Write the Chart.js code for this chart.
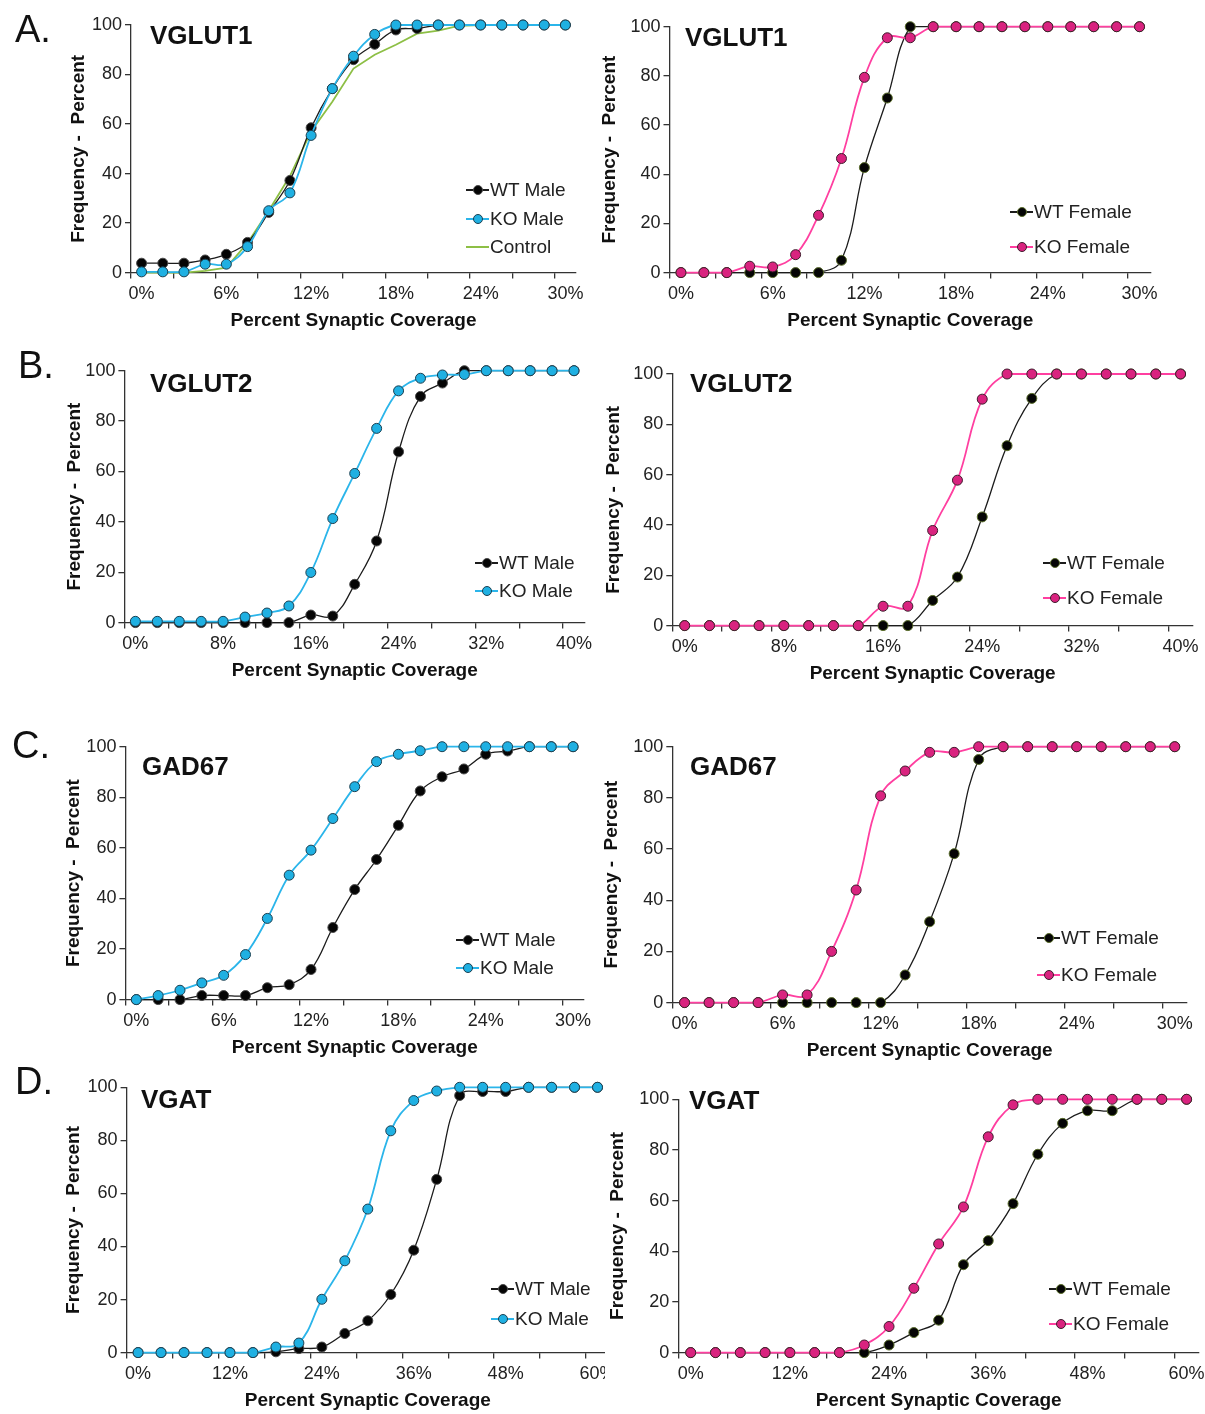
<!DOCTYPE html>
<html>
<head>
<meta charset="utf-8">
<title>Synaptic coverage cumulative frequency</title>
<script src="https://cdn.jsdelivr.net/npm/chart.js@4.4.0/dist/chart.umd.min.js"></script>
<style>
  html, body { margin: 0; background: #fff; }
  body { width: 1205px; height: 1414px; position: relative; overflow: hidden;
         font-family: "Liberation Sans", Arial, sans-serif; color: #111; }
  .wrap { position: absolute; overflow: hidden; }
  .wrap canvas { position: absolute; left: 0; top: 0; }
  .letter { position: absolute; font-size: 38px; line-height: 1; }
  .ptitle { position: absolute; font-size: 26px; font-weight: bold; line-height: 1; white-space: nowrap; }
  .leg { position: absolute; height: 20px; line-height: 20px; font-size: 19px; padding-left: 24px;
         white-space: nowrap; color: #222; }
  .leg .ln { position: absolute; left: 0; top: 9px; width: 23px; height: 1.6px; }
  .leg .dot { position: absolute; left: 7px; top: 5px; width: 10px; height: 10px; border-radius: 50%;
              border: 1px solid; box-sizing: border-box; }
</style>
</head>
<body>
<script>
/* Cumulative frequency of percent synaptic coverage — 8 panels (A–D) */

// ── x categories (bins) ─────────────────────────────────────────────────────
const BINS_30 = ["0%", "1.5%", "3%", "4.5%", "6%", "7.5%", "9%", "10.5%", "12%", "13.5%", "15%",
                 "16.5%", "18%", "19.5%", "21%", "22.5%", "24%", "25.5%", "27%", "28.5%", "30%"];
const BINS_40 = ["0%", "2%", "4%", "6%", "8%", "10%", "12%", "14%", "16%", "18%", "20%",
                 "22%", "24%", "26%", "28%", "30%", "32%", "34%", "36%", "38%", "40%"];
const BINS_60 = ["0%", "3%", "6%", "9%", "12%", "15%", "18%", "21%", "24%", "27%", "30%",
                 "33%", "36%", "39%", "42%", "45%", "48%", "51%", "54%", "57%", "60%"];
const Y_TICKS = [0, 20, 40, 60, 80, 100];

// ── A. VGLUT1 ───────────────────────────────────────────────────────────────
const VGLUT1_WT_MALE   = [3.8, 3.8, 3.8, 5.1, 7.4, 12.2, 24.3, 37.2, 58.5, 74.3, 86, 92.2, 98, 98.6, 100, 100, 100, 100, 100, 100, 100];
const VGLUT1_KO_MALE   = [0.3, 0.3, 0.3, 3.4, 3.4, 10.5, 25, 32.2, 55.4, 74.3, 87.4, 96.2, 100, 100, 100, 100, 100, 100, 100, 100, 100];
const VGLUT1_CONTROL   = [0, 0, 0, 0.7, 2, 12, 25, 39, 57, 69, 82.4, 88, 92, 96.5, 97.7, 99.7, 100, 100, 100, 100, 100];
const VGLUT1_WT_FEMALE = [0, 0, 0, 0, 0, 0, 0, 5, 42.7, 71, 100, 100, 100, 100, 100, 100, 100, 100, 100, 100, 100];
const VGLUT1_KO_FEMALE = [0, 0, 0, 2.6, 2.3, 7.3, 23.3, 46.4, 79.4, 95.5, 95.5, 100, 100, 100, 100, 100, 100, 100, 100, 100, 100];

// ── B. VGLUT2 ───────────────────────────────────────────────────────────────
const VGLUT2_WT_MALE   = [0, 0, 0, 0, 0, 0, 0, 0, 3, 2.6, 15.2, 32.4, 67.8, 89.8, 95.1, 100, 100, 100, 100, 100, 100];
const VGLUT2_KO_MALE   = [0.5, 0.5, 0.5, 0.5, 0.5, 2.2, 3.8, 6.6, 19.9, 41.3, 59.2, 77.1, 92, 97, 98.3, 98.5, 100, 100, 100, 100, 100];
const VGLUT2_WT_FEMALE = [0, 0, 0, 0, 0, 0, 0, 0, 0, 0, 10, 19.3, 43.2, 71.5, 90.3, 100, 100, 100, 100, 100, 100];
const VGLUT2_KO_FEMALE = [0, 0, 0, 0, 0, 0, 0, 0, 7.7, 7.7, 37.8, 57.8, 90, 100, 100, 100, 100, 100, 100, 100, 100];

// ── C. GAD67 ────────────────────────────────────────────────────────────────
const GAD67_WT_MALE    = [0, 0, 0, 1.6, 1.6, 1.6, 4.7, 5.9, 11.9, 28.5, 43.5, 55.4, 68.9, 82.5, 88.1, 91.2, 97, 98.3, 100, 100, 100];
const GAD67_KO_MALE    = [0, 1.6, 3.7, 6.6, 9.6, 17.8, 32.1, 49.2, 59.1, 71.6, 84.2, 94.1, 97, 98.4, 100, 100, 100, 100, 100, 100, 100];
const GAD67_WT_FEMALE  = [0, 0, 0, 0, 0, 0, 0, 0, 0, 10.8, 31.6, 58.2, 95, 100, 100, 100, 100, 100, 100, 100, 100];
const GAD67_KO_FEMALE  = [0, 0, 0, 0, 3, 3, 20, 44, 80.8, 90.5, 97.8, 97.8, 100, 100, 100, 100, 100, 100, 100, 100, 100];

// ── D. VGAT ─────────────────────────────────────────────────────────────────
const VGAT_WT_MALE     = [0, 0, 0, 0, 0, 0, 0.3, 1.5, 2.1, 7.2, 12, 21.9, 38.6, 65.3, 96.9, 98.4, 98.4, 100, 100, 100, 100];
const VGAT_KO_MALE     = [0, 0, 0, 0, 0, 0, 2.1, 3.6, 20.1, 34.6, 54.1, 83.6, 95, 98.6, 100, 100, 100, 100, 100, 100, 100];
const VGAT_WT_FEMALE   = [0, 0, 0, 0, 0, 0, 0, 0, 3, 7.9, 12.8, 34.7, 44.2, 58.8, 78.3, 90.5, 95.5, 95.5, 100, 100, 100];
const VGAT_KO_FEMALE   = [0, 0, 0, 0, 0, 0, 0, 3, 10.3, 25.4, 42.9, 57.5, 85.2, 97.8, 100, 100, 100, 100, 100, 100, 100];

// ── styling ─────────────────────────────────────────────────────────────────
const AXIS = "#333";
const FONT = "'Liberation Sans', Arial, sans-serif";
const STYLE = {
    wtM:  { line: "#1c1c1c", fill: "#050505", edge: "#4a4a4a", width: 1.3, tension: 0.4, order: 1 },
    wtF:  { line: "#1c1c1c", fill: "#050505", edge: "#5b6e2c", width: 1.3, tension: 0.4, order: 1 },
    koM:  { line: "#2bb5ea", fill: "#1fb0e2", edge: "#1b3f50", width: 1.8, tension: 0.4, order: 0 },
    koF:  { line: "#ff3fa0", fill: "#d9237f", edge: "#3d1d2c", width: 1.8, tension: 0.4, order: 0 },
    ctrl: { line: "#8dbf45", width: 1.8, tension: 0, order: 2 },
};

// panel layout: plot box in page px, y-title centre, legend anchor, title anchor
const PANELS = [
    { letter: "A.", letterAt: [15, 29], title: "VGLUT1", titleAt: [150, 35], bins: BINS_30,
      box: { left: 131, right: 576, top: 25, bottom: 272 }, yTitleX: 78,
      legend: { x: 466, ys: [190, 219, 247] },
      series: [["WT Male", VGLUT1_WT_MALE, "wtM"], ["KO Male", VGLUT1_KO_MALE, "koM"], ["Control", VGLUT1_CONTROL, "ctrl"]] },
    { title: "VGLUT1", titleAt: [685, 37], bins: BINS_30,
      box: { left: 669.5, right: 1151, top: 26.7, bottom: 272.3 }, yTitleX: 609,
      legend: { x: 1010, ys: [212, 247] },
      series: [["WT Female", VGLUT1_WT_FEMALE, "wtF"], ["KO Female", VGLUT1_KO_FEMALE, "koF"]] },
    { letter: "B.", letterAt: [18, 365], title: "VGLUT2", titleAt: [150, 383], bins: BINS_40,
      box: { left: 124.4, right: 585, top: 370.7, bottom: 622.3 }, yTitleX: 74,
      legend: { x: 475, ys: [563, 591] },
      series: [["WT Male", VGLUT2_WT_MALE, "wtM"], ["KO Male", VGLUT2_KO_MALE, "koM"]] },
    { title: "VGLUT2", titleAt: [690, 383], bins: BINS_40,
      box: { left: 672.3, right: 1192.5, top: 374, bottom: 625 }, yTitleX: 613,
      legend: { x: 1043, ys: [563, 598] },
      series: [["WT Female", VGLUT2_WT_FEMALE, "wtF"], ["KO Female", VGLUT2_KO_FEMALE, "koF"]] },
    { letter: "C.", letterAt: [12, 745], title: "GAD67", titleAt: [142, 766], bins: BINS_30,
      box: { left: 125.4, right: 583.2, top: 746.7, bottom: 999.3 }, yTitleX: 73,
      legend: { x: 456, ys: [940, 968] },
      series: [["WT Male", GAD67_WT_MALE, "wtM"], ["KO Male", GAD67_KO_MALE, "koM"]] },
    { title: "GAD67", titleAt: [690, 766], bins: BINS_30,
      box: { left: 672.3, right: 1186.6, top: 746.7, bottom: 1001.7 }, yTitleX: 611,
      legend: { x: 1037, ys: [938, 975] },
      series: [["WT Female", GAD67_WT_FEMALE, "wtF"], ["KO Female", GAD67_KO_FEMALE, "koF"]] },
    { letter: "D.", letterAt: [15, 1081], title: "VGAT", titleAt: [141, 1099], bins: BINS_60,
      box: { left: 126.6, right: 608.8, top: 1087.3, bottom: 1352.3 }, yTitleX: 73, clipRight: 605,
      legend: { x: 491, ys: [1289, 1319] },
      series: [["WT Male", VGAT_WT_MALE, "wtM"], ["KO Male", VGAT_KO_MALE, "koM"]] },
    { title: "VGAT", titleAt: [689, 1100], bins: BINS_60,
      box: { left: 678.3, right: 1198.8, top: 1099.3, bottom: 1351.7 }, yTitleX: 617,
      legend: { x: 1049, ys: [1289, 1324] },
      series: [["WT Female", VGAT_WT_FEMALE, "wtF"], ["KO Female", VGAT_KO_FEMALE, "koF"]] },
];

const X_TITLE_DY = 48;     // axis line → x-title centre
const HALF_LH = 11.4;      // half line height of 19px titles
const PAD_T = 14, PAD_R = 24, PAD_B = 6;

function addText(cls, text, x, cy, size) {
    const el = document.createElement("div");
    el.className = cls;
    el.textContent = text;
    el.style.left = x + "px";
    el.style.top = (cy - size / 2) + "px";
    document.body.appendChild(el);
}

function addLegend(p) {
    p.series.forEach(([label, , kind], i) => {
        const st = STYLE[kind];
        const row = document.createElement("div");
        row.className = "leg";
        row.style.left = p.legend.x + "px";
        row.style.top = (p.legend.ys[i] - 10) + "px";
        row.innerHTML = `<i class="ln" style="background:${st.line}"></i>` +
            (st.fill ? `<i class="dot" style="background:${st.fill};border-color:${st.edge}"></i>` : "") +
            `<span>${label}</span>`;
        document.body.appendChild(row);
    });
}

function makePanel(p) {
    const left = Math.round(p.box.left - (p.box.left + HALF_LH - p.yTitleX));
    const yW = p.box.left - left;
    const xH = X_TITLE_DY + HALF_LH;
    const top = Math.round(p.box.top - PAD_T);
    const padT = p.box.top - top;
    const cw = Math.ceil(p.box.right - p.box.left + yW + PAD_R);
    const ch = Math.ceil(p.box.bottom - p.box.top + padT + xH + PAD_B);

    const wrap = document.createElement("div");
    wrap.className = "wrap";
    wrap.style.left = left + "px";
    wrap.style.top = top + "px";
    wrap.style.width = (p.clipRight ? p.clipRight - left : cw) + "px";
    wrap.style.height = ch + "px";
    const canvas = document.createElement("canvas");
    canvas.width = cw;
    canvas.height = ch;
    wrap.appendChild(canvas);
    document.body.appendChild(wrap);

    const datasets = p.series.map(([label, data, kind]) => {
        const st = STYLE[kind];
        return {
            label, data,
            borderColor: st.line,
            borderWidth: st.width,
            tension: st.tension,
            order: st.order,
            pointRadius: st.fill ? 5 : 0,
            pointBorderWidth: 1,
            pointBackgroundColor: st.fill,
            pointBorderColor: st.edge,
            clip: 8,
        };
    });

    new Chart(canvas, {
        type: "line",
        data: { labels: p.bins, datasets },
        options: {
            responsive: false,
            animation: false,
            events: [],
            layout: { padding: { left: 0, top: padT, right: PAD_R, bottom: PAD_B } },
            plugins: { legend: { display: false }, tooltip: { enabled: false } },
            scales: {
                x: {
                    type: "category",
                    offset: true,
                    afterFit: s => { s.height = xH; s.paddingLeft = 0; s.paddingRight = 0; },
                    grid: {
                        offset: true,
                        drawOnChartArea: false,
                        tickLength: 6,
                        lineWidth: 1.3,
                        color: ctx => ctx.index % 2 === 0 ? AXIS : "rgba(0,0,0,0)",
                    },
                    border: { color: AXIS, width: 1.3 },
                    ticks: {
                        autoSkip: false, maxRotation: 0, padding: 5,
                        color: "#222", font: { family: FONT, size: 18 },
                        callback: function (v, i) { return i % 4 === 0 ? this.getLabelForValue(v) : ""; },
                    },
                    title: {
                        display: true, text: "Percent Synaptic Coverage", color: "#111",
                        padding: { top: 0, bottom: 0 },
                        font: { family: FONT, size: 19, weight: "bold" },
                    },
                },
                y: {
                    min: 0, max: 100,
                    afterFit: s => { s.width = yW; s.paddingTop = 0; s.paddingBottom = 0; },
                    afterBuildTicks: s => { s.ticks = Y_TICKS.map(v => ({ value: v })); },
                    grid: { drawOnChartArea: false, tickLength: 6, lineWidth: 1.3, color: AXIS },
                    border: { color: AXIS, width: 1.3 },
                    ticks: { padding: 3, color: "#222", font: { family: FONT, size: 18 } },
                    title: {
                        display: true, text: "Frequency -  Percent", color: "#111",
                        padding: { top: 0, bottom: 0 },
                        font: { family: FONT, size: 19, weight: "bold" },
                    },
                },
            },
        },
    });

    addText("ptitle", p.title, p.titleAt[0], p.titleAt[1], 26);
    if (p.letter) addText("letter", p.letter, p.letterAt[0], p.letterAt[1], 38);
    addLegend(p);
}

PANELS.forEach(makePanel);
</script>
</body>
</html>
